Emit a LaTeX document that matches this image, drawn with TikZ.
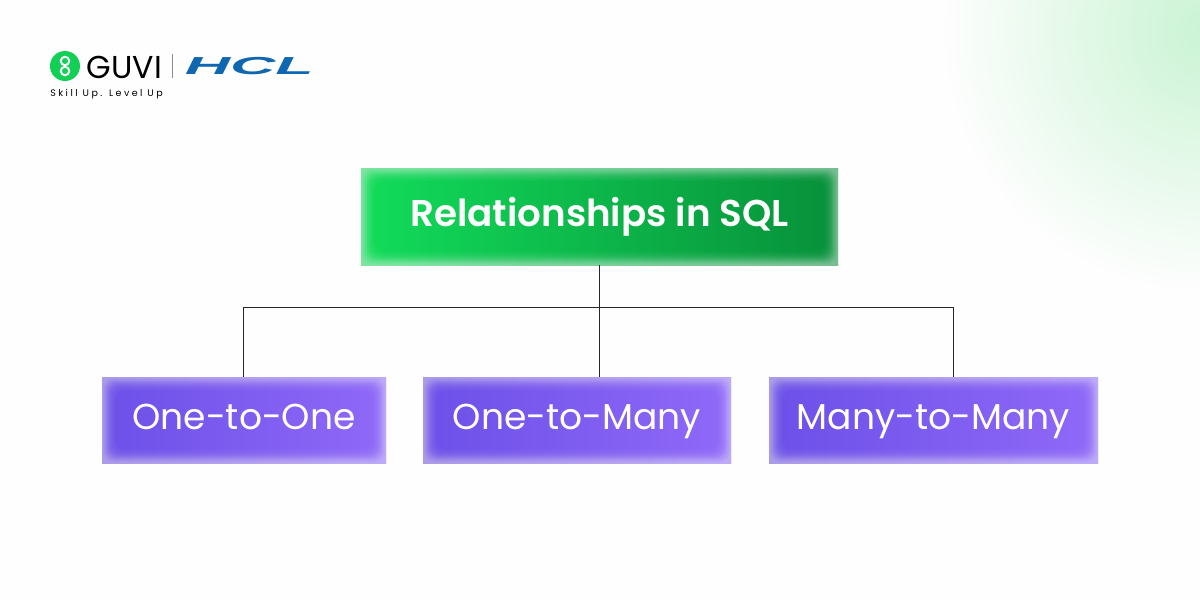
\documentclass[tikz,border=0pt]{standalone}
\usepackage{fontspec}
\setmainfont{Poppins}
\newfontfamily\medfont[UprightFont=* SemiBold]{Poppins}
\newfontfamily\tagfont[LetterSpace=26]{Poppins}
\newfontfamily\hclfont{Liberation Sans}
\usetikzlibrary{positioning}
\usetikzlibrary{calc}
\usetikzlibrary{fadings}
\definecolor{guvigreen}{HTML}{12CF55}
\definecolor{hclblue}{HTML}{0F67B1}
\definecolor{mainleft}{HTML}{12DC5A}
\definecolor{mainright}{HTML}{07903A}
\definecolor{kidleft}{HTML}{6C50E8}
\definecolor{kidright}{HTML}{9069F8}
\definecolor{glowgreen}{HTML}{B4F0C2}
\tikzfading[name=softglow, inner color=transparent!30, outer color=transparent!100]
\tikzset{
    softbox/.style={
        minimum height=#1, inner sep=0pt, text=white,
        path picture={
            \foreach \d in {0.01,0.02,0.03,0.04,0.05,0.06,0.07,0.08,0.09,0.1,0.11,0.12,0.135,0.15,0.17,0.19,0.22,0.26} {
                \fill[white, opacity=0.034, even odd rule] ([shift={(-0.1,-0.1)}]path picture bounding box.south west) rectangle ([shift={(0.1,0.1)}]path picture bounding box.north east)
                    [rounded corners=0.2cm] ([shift={(\d,\d)}]path picture bounding box.south west) rectangle ([shift={(-\d,-\d)}]path picture bounding box.north east);
            }
        }
    },
    mainbox/.style={softbox=1.94cm, minimum width=9.54cm, shade, shading angle=80, left color=mainleft, right color=mainright, text height=0.55cm, text depth=0.15cm, font=\fontsize{21.2}{25}\selectfont\medfont},
    kidbox/.style={softbox=1.72cm, shade, left color=kidleft, right color=kidright, text height=0.5cm, text depth=0.14cm, font=\fontsize{20.5}{24}\selectfont},
    link/.style={black!85, line width=0.57pt}
}
\begin{document}
\begin{tikzpicture}
    \useasboundingbox (0,0) rectangle (24,12);
    \fill[white!99.5!black] (0,0) rectangle (24,12);

    % Green glow in the corner
    \begin{scope}
        \clip (0,0) rectangle (24,12);
        \fill[glowgreen, path fading=softglow] (24.1,11.4) circle (5.2cm);
    \end{scope}

    % Logo
    \fill[guvigreen] (1.3,10.68) circle (0.3cm);
    \draw[white, line width=1.1pt] (1.3,10.78) circle (0.085cm);
    \draw[white, line width=1.1pt] (1.3,10.58) circle (0.085cm);
    \node[anchor=west, inner sep=0pt, font=\fontsize{18}{20}\selectfont] (guvi) at (1.73,10.66) {GUVI};
    \draw[black!45, line width=0.4pt] (3.45,10.44) -- (3.45,10.92);
    \node[anchor=west, inner sep=0pt, text=hclblue, xscale=2.55, font=\fontsize{14}{16}\selectfont\hclfont\bfseries\itshape] (hcl) at (3.68,10.67) {HCL};
    \node[anchor=west, inner sep=0pt, font=\fontsize{5.4}{7}\selectfont\tagfont] (tag) at (1,10.12) {Skill Up. Level Up};

    % Boxes
    \node[mainbox] (main) at (11.99,7.67) {Relationships in SQL};
    \node[kidbox, minimum width=5.68cm] (oneone) at (4.88,3.6) {One-to-One};
    \node[kidbox, minimum width=6.16cm] (onemany) at (11.54,3.6) {One-to-Many};
    \node[kidbox, minimum width=6.58cm] (manymany) at (18.67,3.6) {Many-to-Many};

    % Connectors
    \coordinate (busleft) at (4.87,5.85);
    \coordinate (busright) at (19.07,5.85);
    \draw[link] (main.south) -- (main.south |- onemany.north);
    \draw[link] (oneone.north -| busleft) -- (busleft) -- (busright) -- (manymany.north -| busright);
\end{tikzpicture}
\end{document}
